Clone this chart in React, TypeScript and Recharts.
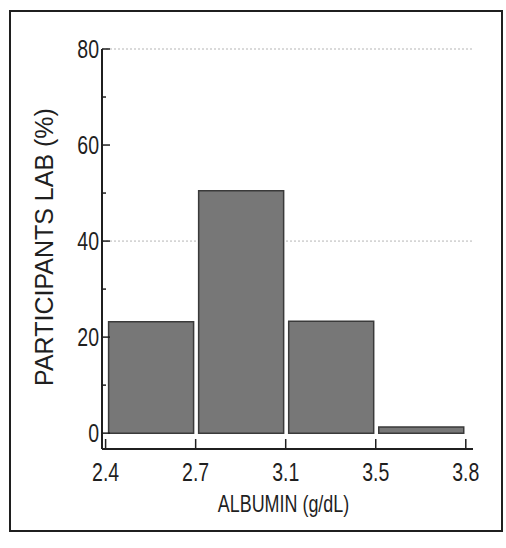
import {
  ComposedChart,
  Bar,
  XAxis,
  YAxis,
  CartesianGrid,
} from "recharts";

// bin edges of albumin (g/dL) and share of participants per bin (%)
const binEdges = ["2.4", "2.7", "3.1", "3.5", "3.8"];
const binPercent = [23.2, 50.5, 23.3, 1.3];
const yTicks = [0, 10, 20, 30, 40, 50, 60, 70, 80];
const gridValues = [40, 80];

const data = binPercent.map((pct, i) => ({ mid: i + 0.5, pct }));
const edgeTicks = binEdges.map((_, i) => i);

const ink = "#1f1f1f";
const sans = "'Liberation Sans', Arial, sans-serif";
// the printed figure uses a condensed face, squeeze glyphs horizontally
const squeeze = 0.78;

function YTick(props: any) {
  const { x, y, payload } = props;
  const v = payload.value as number;
  const major = v % 20 === 0;
  return (
    <g>
      <line
        x1={x + 3}
        x2={x + 3 + (major ? 8 : 4)}
        y1={y}
        y2={y}
        stroke={ink}
        strokeWidth={1.5}
      />
      {major && (
        <text
          transform={`translate(${x} ${y}) scale(${squeeze} 1)`}
          dy="0.36em"
          textAnchor="end"
          fontSize={25}
          fontFamily={sans}
          fill={ink}
        >
          {v}
        </text>
      )}
    </g>
  );
}

function XTick(props: any) {
  const { x, y, payload } = props;
  return (
    <text
      transform={`translate(${x} ${y}) scale(${squeeze} 1)`}
      dy="0.71em"
      textAnchor="middle"
      fontSize={25}
      fontFamily={sans}
      fill={ink}
    >
      {binEdges[payload.value]}
    </text>
  );
}

export default function App() {
  return (
    <div
      style={{
        position: "absolute",
        left: 0,
        top: 0,
        width: 506,
        height: 548,
        background: "#fff",
      }}
    >
      <div
        style={{
          position: "absolute",
          left: 9,
          top: 10,
          width: 494,
          height: 522,
          border: `2px solid ${ink}`,
          boxSizing: "border-box",
        }}
      />
      <div style={{ position: "absolute", left: 0, top: 0 }}>
        <ComposedChart
          width={506}
          height={548}
          data={data}
          margin={{ top: 49, right: 33, bottom: 39, left: 0 }}
        >
          <CartesianGrid
            vertical={false}
            horizontalValues={gridValues}
            stroke="#b5b5b5"
            strokeDasharray="2 2"
          />
          <XAxis
            dataKey="mid"
            type="number"
            domain={[-0.04, 4.08]}
            allowDataOverflow
            ticks={edgeTicks}
            height={60}
            tickSize={-10}
            tickMargin={24}
            axisLine={{ stroke: ink, strokeWidth: 2 }}
            tickLine={{ stroke: ink, strokeWidth: 1.5 }}
            tick={<XTick />}
            label={({ viewBox }: any) => {
              const cx = viewBox.x + viewBox.width / 2 - 4;
              const cy = viewBox.y + 63;
              return (
                <text
                  transform={`translate(${cx} ${cy}) scale(${squeeze} 1)`}
                  textAnchor="middle"
                  fontSize={23}
                  fontFamily={sans}
                  fill={ink}
                >
                  ALBUMIN (g/dL)
                </text>
              );
            }}
          />
          <YAxis
            type="number"
            domain={[-3.3, 80]}
            allowDataOverflow
            ticks={yTicks}
            width={102}
            tickSize={-8}
            tickMargin={11}
            tickLine={false}
            axisLine={{ stroke: ink, strokeWidth: 2 }}
            tick={<YTick />}
            label={({ viewBox }: any) => {
              const cx = viewBox.x + 53;
              const cy = viewBox.y + viewBox.height / 2 - 2;
              return (
                <text
                  x={cx}
                  y={cy}
                  transform={`rotate(-90 ${cx} ${cy})`}
                  textAnchor="middle"
                  fontSize={25}
                  fontFamily={sans}
                  fill={ink}
                >
                  PARTICIPANTS LAB (%)
                </text>
              );
            }}
          />
          <Bar
            dataKey="pct"
            barSize={85}
            fill="#777777"
            stroke="#3a3a3a"
            strokeWidth={1.5}
            isAnimationActive={false}
          />
        </ComposedChart>
      </div>
    </div>
  );
}
